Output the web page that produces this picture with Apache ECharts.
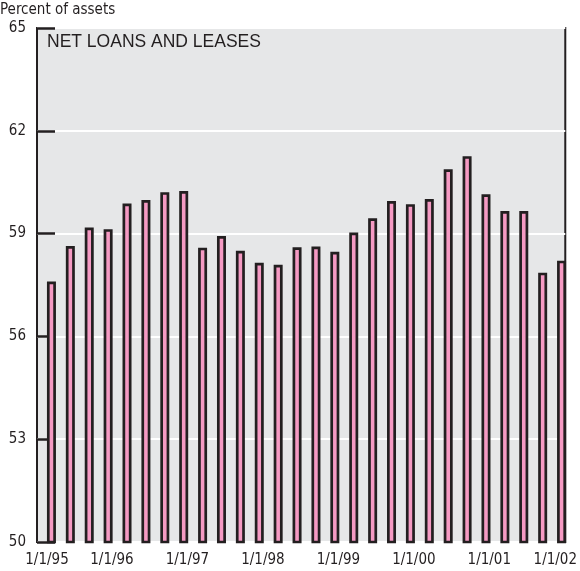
<!DOCTYPE html>
<html>
<head>
<meta charset="utf-8">
<script src="https://cdn.jsdelivr.net/npm/echarts@6/dist/echarts.min.js"></script>
<style>
  html, body { margin: 0; padding: 0; background: #fff; }
  #chart { width: 580px; height: 571px; }
</style>
</head>
<body>
<div id="chart"></div>
<script>
// quarterly, Q1 1995 .. Q4 2001
var quarters = ['95Q1','95Q2','95Q3','95Q4','96Q1','96Q2','96Q3','96Q4',
                '97Q1','97Q2','97Q3','97Q4','98Q1','98Q2','98Q3','98Q4',
                '99Q1','99Q2','99Q3','99Q4','00Q1','00Q2','00Q3','00Q4',
                '01Q1','01Q2','01Q3','01Q4'];
var loanShare = [57.60, 58.64, 59.18, 59.13, 59.88, 59.98, 60.21, 60.24,
                 58.59, 58.93, 58.50, 58.15, 58.09, 58.60, 58.62, 58.47,
                 59.03, 59.45, 59.95, 59.86, 60.01, 60.88, 61.26, 60.15,
                 59.66, 59.66, 57.86, 58.21];
var yearLabels = ['1/1/95','1/1/96','1/1/97','1/1/98','1/1/99','1/1/00','1/1/01','1/1/02'];
var yTicks = [50, 53, 56, 59, 62, 65];

var cond = "'DejaVu Sans Condensed', 'Liberation Sans Narrow', sans-serif";
var ink = '#231f20';

var chart = echarts.init(document.getElementById('chart'));
var option = {
  animation: false,
  title: [
    { text: 'Percent of assets', left: 0, top: 3, padding: 0,
      textStyle: { fontFamily: cond, fontSize: 15, fontWeight: 'normal', color: ink } },
    { text: 'NET LOANS AND LEASES', left: 47, top: 33, padding: 0,
      textStyle: { fontFamily: "'Liberation Sans', Arial, sans-serif", fontSize: 17.5, fontWeight: 'normal', color: ink } }
  ],
  grid: [
    // plot frame, gridlines, axis labels
    { left: 37, right: 13, top: 28, bottom: 29,
      show: true, backgroundColor: '#e6e7e8', borderColor: ink, borderWidth: 2 },
    // bars sit slightly right of the frame
    { left: 42, right: 9, top: 28, bottom: 29 }
  ],
  xAxis: [
    { type: 'value', gridIndex: 0, position: 'bottom', min: 0, max: 28, interval: 4,
      axisLine: { show: false }, axisTick: { show: false }, splitLine: { show: false },
      axisLabel: {
        margin: 11, fontFamily: cond, fontSize: 15, color: ink,
        formatter: function (v) {
          var i = Math.round(v / 4);
          if (i === 0) return '{first|' + yearLabels[i] + '}';
          if (i === yearLabels.length - 1) return '{last|' + yearLabels[i] + '}';
          return '{mid|' + yearLabels[i] + '}';
        },
        rich: {
          first: { fontFamily: cond, fontSize: 15, color: ink, padding: [0, 0, 0, 20] },
          last: { fontFamily: cond, fontSize: 15, color: ink, padding: [0, 20, 0, 0] },
          mid: { fontFamily: cond, fontSize: 15, color: ink, padding: [0, 1, 0, 0] }
        }
      } },
    { type: 'category', gridIndex: 1, data: quarters, boundaryGap: true,
      axisLine: { show: false }, axisTick: { show: false }, axisLabel: { show: false } }
  ],
  yAxis: [
    { type: 'value', gridIndex: 0, min: yTicks[0], max: yTicks[yTicks.length - 1], interval: 3,
      axisLine: { show: false },
      axisTick: { show: true, inside: true, length: 18, lineStyle: { color: ink, width: 2.5 } },
      axisLabel: { margin: 11, fontFamily: cond, fontSize: 15, color: ink },
      splitLine: { show: true, lineStyle: { color: '#ffffff', width: 2 } } },
    { type: 'value', gridIndex: 1, min: yTicks[0], max: yTicks[yTicks.length - 1], interval: 3,
      axisLine: { show: false }, axisTick: { show: false }, axisLabel: { show: false },
      splitLine: { show: false } }
  ],
  series: [{
    type: 'bar',
    xAxisIndex: 1,
    yAxisIndex: 1,
    data: loanShare,
    barWidth: 9,
    itemStyle: { color: '#f59ac3', borderColor: ink, borderWidth: 2.7 }
  }]
};
chart.setOption(option);
</script>
</body>
</html>
